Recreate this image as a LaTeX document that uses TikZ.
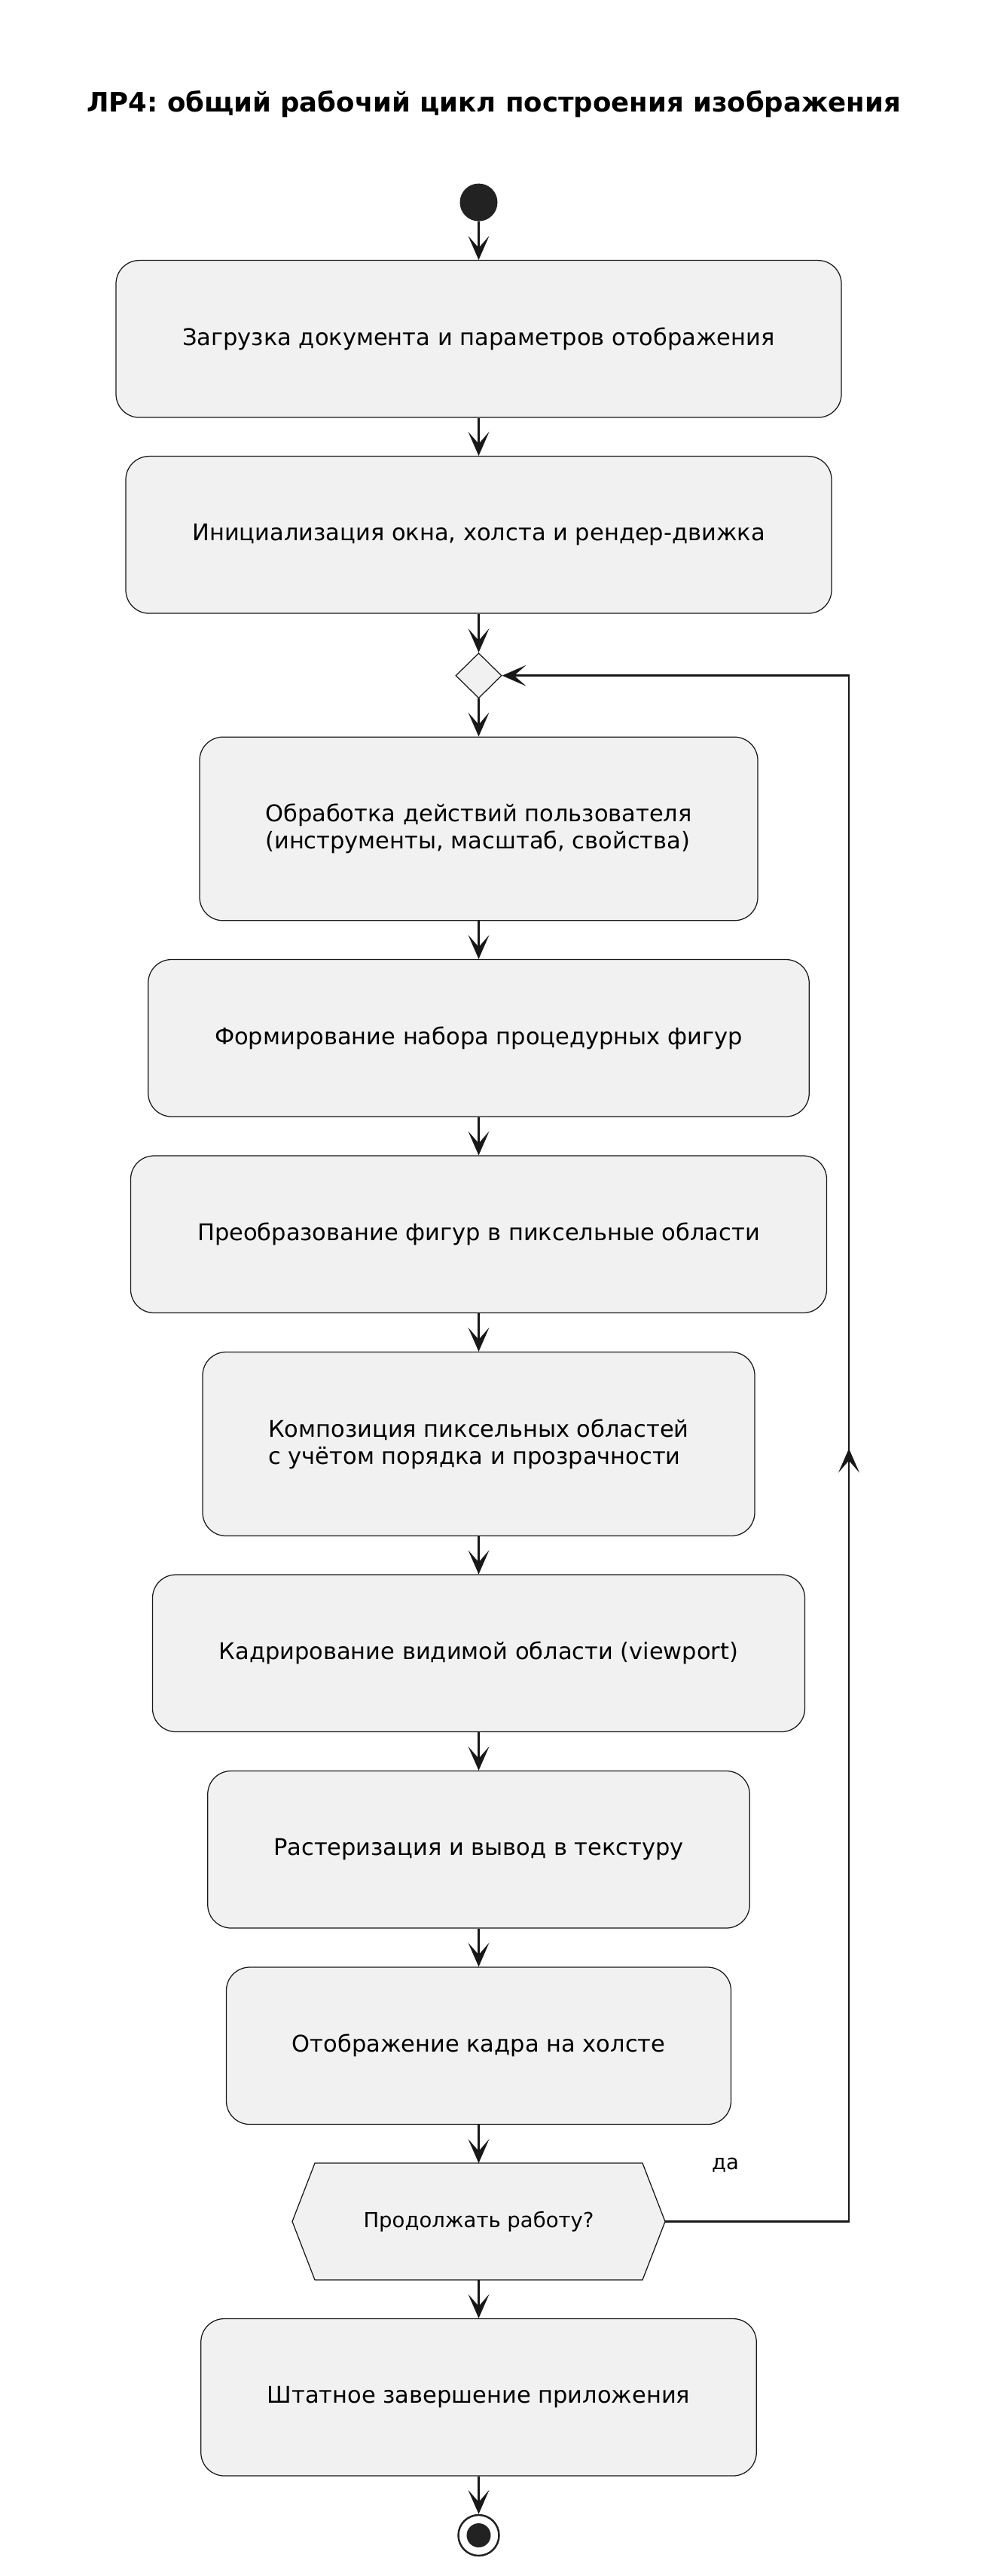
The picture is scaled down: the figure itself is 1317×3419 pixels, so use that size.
\documentclass[tikz,border=0pt]{standalone}
\usepackage{fontspec}
\setmainfont{DejaVu Sans}
\frenchspacing
\usetikzlibrary{arrows.meta,shapes.geometric,calc}
\definecolor{lineC}{HTML}{181818}
\definecolor{fillC}{HTML}{F1F1F1}
\definecolor{dotC}{HTML}{222222}
\pgfdeclarearrow{
  name = PumlHead,
  setup code = {
    \pgfarrowssettipend{0pt}
    \pgfarrowssetlineend{-14pt}
    \pgfarrowssetvisualbackend{-32pt}
    \pgfarrowssetbackend{-32pt}
    \pgfarrowshullpoint{0pt}{0pt}
    \pgfarrowshullpoint{-32pt}{14pt}
    \pgfarrowshullpoint{-32pt}{-14pt}
  },
  drawing code = {
    \pgfsetfillcolor{lineC}
    \pgfpathmoveto{\pgfqpoint{0pt}{0pt}}
    \pgfpathlineto{\pgfqpoint{-32pt}{14pt}}
    \pgfpathlineto{\pgfqpoint{-16pt}{0pt}}
    \pgfpathlineto{\pgfqpoint{-32pt}{-14pt}}
    \pgfpathclose
    \pgfusepathqfill
  }
}
\begin{document}
\begin{tikzpicture}[x=1pt,y=-1pt,
  act/.style={draw=lineC, fill=fillC, line width=1.25pt, rounded corners=31pt,
    inner sep=0pt, align=left, font=\fontsize{30.5}{36}\selectfont, text=black},
  flow/.style={draw=lineC, line width=2.5pt, -PumlHead},
  shapeline/.style={draw=lineC, fill=fillC, line width=1.25pt},
  small/.style={font=\fontsize{27.5}{33}\selectfont, text=black}
]
\useasboundingbox (0,0) rectangle (1317,3419);

\node[font=\bfseries\fontsize{35.5}{42}\selectfont, anchor=base] (title) at (655.5,148)
  {ЛР4: общий рабочий цикл построения изображения};

\node[circle, fill=dotC, minimum size=50pt, inner sep=0pt] (start) at (635.5,268.6) {};

\node[act, minimum width=963pt, minimum height=208.5pt] (b1) at (635.5,449.85)
  {Загрузка документа и параметров отображения};
\node[act, minimum width=937pt, minimum height=208.5pt] (b2) at (635.5,709.85)
  {Инициализация окна, холста и рендер-движка};
\node[diamond, shapeline, minimum width=61pt, minimum height=60pt, inner sep=0pt] (dia) at (635.5,896.7) {};
\node[act, minimum width=741pt, minimum height=243.6pt] (b3) at (635.5,1100)
  {Обработка действий пользователя\\(инструменты, масштаб, свойства)};
\node[act, minimum width=877.5pt, minimum height=208.5pt] (b4) at (635.5,1377.75)
  {Формирование набора процедурных фигур};
\node[act, minimum width=924pt, minimum height=208.5pt] (b5) at (635.5,1638.25)
  {Преобразование фигур в пиксельные области};
\node[act, minimum width=733pt, minimum height=244pt] (b6) at (635.5,1916.5)
  {Композиция пиксельных областей\\с учётом порядка и прозрачности};
\node[act, minimum width=866pt, minimum height=208.5pt] (b7) at (635.5,2194.25)
  {Кадрирование видимой области (viewport)};
\node[act, minimum width=719.5pt, minimum height=208.5pt] (b8) at (635.5,2454.75)
  {Растеризация и вывод в текстуру};
\node[act, minimum width=670pt, minimum height=208.5pt] (b9) at (635.5,2715.25)
  {Отображение кадра на холсте};

\path[shapeline] (388,2948.5) -- (418,2871) -- (853,2871) -- (883,2948.5)
  -- (853,3026) -- (418,3026) -- cycle;
\node[small, minimum width=495pt, minimum height=155pt, inner sep=0pt, outer sep=0pt] (hex) at (635.5,2948.5)
  {Продолжать работу?};

\node[act, minimum width=737.5pt, minimum height=208.5pt] (b10) at (635.5,3181.75)
  {Штатное завершение приложения};

\node[circle, draw=dotC, line width=2.5pt, minimum size=54pt, inner sep=0pt] (end) at (635.5,3365) {};
\node[circle, fill=dotC, minimum size=32pt, inner sep=0pt] (endin) at (end.center) {};

\node[small, anchor=base] (yes) at (963,2879) {да};

\draw[flow] (start.south) -- (b1.north);
\draw[flow] (b1.south) -- (b2.north);
\draw[flow] (b2.south) -- (dia.north);
\draw[flow] (dia.south) -- (b3.north);
\draw[flow] (b3.south) -- (b4.north);
\draw[flow] (b4.south) -- (b5.north);
\draw[flow] (b5.south) -- (b6.north);
\draw[flow] (b6.south) -- (b7.north);
\draw[flow] (b7.south) -- (b8.north);
\draw[flow] (b8.south) -- (b9.north);
\draw[flow] (b9.south) -- (hex.north);
\draw[flow] (hex.south) -- (b10.north);
\draw[flow] (b10.south) -- (end.north);

\coordinate (lx) at (1127,0);
\draw[flow] (hex.east) -- (hex.east -| lx) -- (dia.east -| lx) -- (dia.east);
\draw[flow] (hex.east -| lx) -- ($(hex.east -| lx)!0.5!(dia.east -| lx)$);
\end{tikzpicture}
\end{document}
